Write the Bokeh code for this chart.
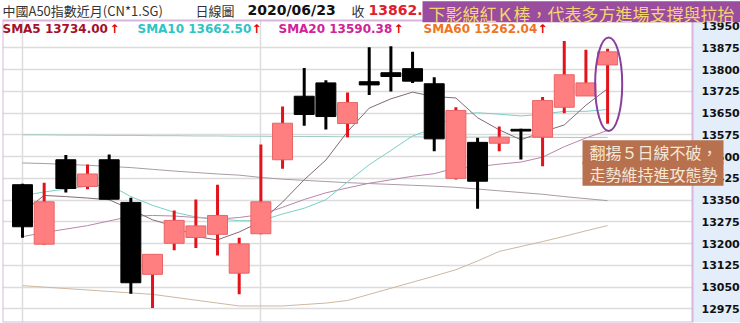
from bokeh.plotting import figure
from bokeh.models import Range1d, FixedTicker, Grid, Label, ColumnDataSource
from bokeh.embed import file_html
from bokeh.resources import INLINE

# ---------------- data ----------------
opens  = [13403, 13198, 13489, 13397, 13489, 13342, 13094, 13201, 13221, 13232,
          13098, 13234, 13489, 13708, 13754, 13614, 13758, 13789, 13803, 13751,
          13425, 13549, 13546, 13594, 13567, 13670, 13709, 13816]
highs  = [13406, 13410, 13505, 13473, 13507, 13358, 13163, 13314, 13352, 13403,
          13220, 13542, 13673, 13805, 13763, 13721, 13877, 13880, 13861, 13773,
          13670, 13565, 13604, 13596, 13705, 13898, 13868, 13872]
lows   = [13220, 13196, 13376, 13387, 13352, 13027, 12978, 13177, 13185, 13159,
          13025, 13232, 13458, 13606, 13593, 13567, 13712, 13724, 13754, 13518,
          13421, 13320, 13518, 13490, 13467, 13649, 13709, 13613]
closes = [13258, 13344, 13390, 13440, 13353, 13065, 13163, 13280, 13261, 13297,
          13199, 13344, 13615, 13645, 13638, 13686, 13747, 13776, 13760, 13561,
          13659, 13415, 13567, 13588, 13693, 13782, 13754, 13861]

sma5  = [13308, 13366, 13362, 13357, 13351, 13318, 13282, 13260, 13224, 13213,
         13240, 13276, 13343, 13420, 13488, 13586, 13667, 13699, 13722, 13707,
         13702, 13634, 13592, 13558, 13585, 13609, 13677, 13734]
sma10 = [13365, 13378, 13388, 13398, 13403, 13362, 13332, 13308, 13292, 13285,
         13279, 13279, 13302, 13322, 13351, 13413, 13472, 13521, 13571, 13598,
         13644, 13651, 13646, 13640, 13646, 13656, 13656, 13662]
sma20 = [13224, 13238, 13250, 13262, 13278, 13294, 13297, 13295, 13290, 13284,
         13290, 13300, 13325, 13352, 13375, 13392, 13408, 13420, 13432, 13441,
         13461, 13465, 13474, 13481, 13498, 13534, 13564, 13590]
sma60 = [13055, 13050, 13045, 13040, 13035, 13030, 13025, 13015, 13005, 12995,
         12985, 12985, 12985, 12990, 12995, 13004, 13025, 13046, 13067, 13088,
         13110, 13140, 13173, 13190, 13207, 13225, 13244, 13262]
ma_long_a = [13575, 13575, 13574, 13574, 13573, 13573, 13572, 13572, 13571, 13571,
             13570, 13570, 13569, 13569, 13569, 13568, 13568, 13568, 13568, 13567,
             13567, 13567, 13567, 13566, 13566, 13566, 13566, 13566]
ma_long_b = [13478, 13476, 13473, 13470, 13466, 13462, 13456, 13450, 13445, 13440,
             13436, 13428, 13422, 13418, 13414, 13410, 13407, 13404, 13401, 13398,
             13394, 13388, 13382, 13376, 13370, 13362, 13355, 13348]

y_ticks = [12975, 13050, 13125, 13200, 13275, 13350, 13425, 13500, 13575,
           13650, 13725, 13800, 13875, 13950]
grid_ticks = y_ticks[:-1]
month_starts = [0, 11]

title_text = "中國A50指數近月(CN*1.SG)"
chart_type = "日線圖"
date_text = "2020/06/23"
close_label = "收"
close_value = "13862.00"
legend_items = [("SMA5 13734.00", "#a3122c"), ("SMA10 13662.50", "#2fc4c4"),
                ("SMA20 13590.38", "#cf2399"), ("SMA60 13262.04", "#ef7424")]
note_top = "下影線紅Ｋ棒，代表多方進場支撐與拉抬"
note_side = ["翻揚５日線不破，", "走勢維持進攻態勢"]

# ---------------- figure ----------------
PXS = 21.67          # pixels per candle
YS = 0.29            # pixels per index point
X0 = -0.923
X1 = X0 + 738 / PXS  # frame spans the whole width (x = 2 .. 740)
Y0, Y1 = 12928, 14038


def px2x(px):
    return (px - 2) / PXS + X0


def py2y(py):
    return Y1 - py / YS


AX = px2x(692)       # where the price scale sits
TB = py2y(20)        # bottom of the title strip


def make_label(pad=None, **kw):
    lbl = Label(level="overlay", **kw)
    if pad is not None:
        l, r, t, b = pad
        for cand in (dict(left=l, right=r, top=t, bottom=b), (l, r, t, b), max(l, t)):
            try:
                lbl.padding = cand
                break
            except Exception:
                continue
    return lbl


p = figure(width=740, height=323, output_backend="svg", toolbar_location=None,
           x_range=Range1d(X0, X1), y_range=Range1d(Y0, Y1),
           y_axis_location="right", x_axis_location=None,
           min_border_left=2, min_border_right=0, min_border_top=0, min_border_bottom=1,
           background_fill_color="white", border_fill_color="white",
           outline_line_color=None)
p.grid.visible = False

p.yaxis.fixed_location = AX
p.yaxis.ticker = FixedTicker(ticks=y_ticks)
p.yaxis.major_label_text_font = "DejaVu Sans"
p.yaxis.major_label_text_font_style = "bold"
p.yaxis.major_label_text_font_size = "11px"
p.yaxis.major_label_text_color = "#111111"
p.yaxis.major_tick_line_color = None
p.yaxis.minor_tick_line_color = None
p.yaxis.axis_line_color = None
p.yaxis.major_label_standoff = 3

p.add_layout(Grid(dimension=1, ticker=FixedTicker(ticks=grid_ticks),
                  grid_line_color="#dcdcdc", grid_line_width=1.5))
p.add_layout(Grid(dimension=0, ticker=FixedTicker(ticks=month_starts),
                  grid_line_color="#dcdcdc", grid_line_width=1.5))

# price-scale strip (light blue), title strip (white) and frame
p.quad(left=[AX], right=[X1], bottom=[Y0], top=[Y1], fill_color="#e4eefa", line_color=None)
p.quad(left=[X0], right=[AX], bottom=[TB], top=[Y1], fill_color="white", line_color=None)
p.quad(left=[X0], right=[AX], bottom=[Y0], top=[TB],
       fill_color=None, line_color="#d9b5de", line_width=2)

# moving averages
idx = list(range(len(closes)))
p.line(idx, ma_long_a, line_color="#9fcac3", line_width=1)
p.line(idx, ma_long_b, line_color="#a99ba6", line_width=1)
p.line(idx, sma60, line_color="#cdb7a0", line_width=1)
p.line(idx, sma20, line_color="#b985ac", line_width=1)
p.line(idx, sma10, line_color="#77d0c7", line_width=1)
p.line(idx, sma5, line_color="#806b76", line_width=1)


# candles
def candle_source(rising):
    sel = [i for i in idx if (closes[i] >= opens[i]) == rising]
    return ColumnDataSource(dict(
        x=sel,
        high=[highs[i] for i in sel],
        low=[lows[i] for i in sel],
        top=[max(opens[i], closes[i]) for i in sel],
        bottom=[min(opens[i], closes[i]) for i in sel],
    ))


up = candle_source(True)
down = candle_source(False)
p.segment(x0="x", y0="low", x1="x", y1="high", source=up, line_color="#e3131c", line_width=3)
p.vbar(x="x", width=0.92, top="top", bottom="bottom", source=up,
       fill_color="#ff7f80", line_color="#e86466", line_width=1)
p.segment(x0="x", y0="low", x1="x", y1="high", source=down, line_color="black", line_width=3)
p.vbar(x="x", width=0.92, top="top", bottom="bottom", source=down,
       fill_color="black", line_color="black", line_width=1)

# highlight ellipse round the last candle
last = idx[-1]
p.ellipse(x=[last + 0.05], y=[(highs[last] + lows[last]) / 2 + 7], width=1.25, height=322,
          fill_color=None, line_color="#8a3f9c", line_width=2)

# header texts
hy = py2y(9.5)
cjk = "Noto Sans CJK TC"
p.add_layout(make_label(x=px2x(2), y=hy, text=title_text, text_font=cjk, text_font_size="13px",
                        text_color="#333333", text_baseline="middle"))
p.add_layout(make_label(x=px2x(195), y=hy, text=chart_type, text_font=cjk, text_font_size="13px",
                        text_color="#333333", text_baseline="middle"))
p.add_layout(make_label(x=px2x(247), y=hy, text=date_text, text_font="DejaVu Sans",
                        text_font_style="bold", text_font_size="14px",
                        text_color="#111111", text_baseline="middle"))
p.add_layout(make_label(x=px2x(351), y=hy, text=close_label, text_font=cjk, text_font_size="13px",
                        text_color="#333333", text_baseline="middle"))
p.add_layout(make_label(x=px2x(368), y=hy, text=close_value, text_font="DejaVu Sans",
                        text_font_style="bold", text_font_size="14px",
                        text_color="#e0202a", text_baseline="middle"))

# legend row
ly = py2y(28.5)
legend_x = [2, 137, 278, 423]
arrow_x = [109, 251, 393, 537]
for (txt, col), lx, ax in zip(legend_items, legend_x, arrow_x):
    p.add_layout(make_label(x=px2x(lx), y=ly, text=txt, text_font="DejaVu Sans",
                            text_font_style="bold", text_font_size="12px",
                            text_color=col, text_baseline="middle"))
    p.add_layout(make_label(x=px2x(ax), y=ly, text="↑", text_font="DejaVu Sans",
                            text_font_style="bold", text_font_size="12px",
                            text_color="#e00000", text_baseline="middle"))

# annotation boxes
# purple strip behind the top note (a blank label used only for its background)
p.add_layout(make_label(x=px2x(422), y=py2y(11.3), text="\u3000", text_font=cjk,
                        text_font_size="14.5px", text_color="#9a4d9f", text_baseline="middle",
                        background_fill_color="#9a4d9f", background_fill_alpha=1.0,
                        pad=(0, 304, 0, 0)))
p.add_layout(make_label(x=px2x(428), y=py2y(13.3), text=note_top, text_font=cjk,
                        text_font_size="17px", text_color="#f4d56f", text_baseline="middle"))
for line_text, cy in zip(note_side, [151.7, 173.3]):
    p.add_layout(make_label(x=px2x(582), y=py2y(cy), text=line_text, text_font=cjk,
                            text_font_size="16px", text_color="#f7e8d5", text_baseline="middle",
                            background_fill_color="#b7714f", background_fill_alpha=1.0,
                            pad=(7, 6, 0, 0)))

open("out.html", "w").write(file_html(p, INLINE))
